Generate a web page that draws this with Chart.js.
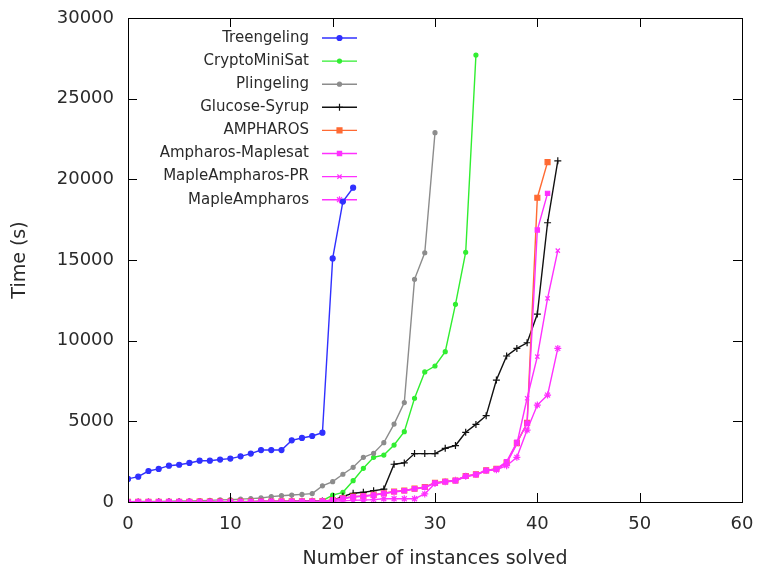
<!DOCTYPE html>
<html>
<head>
<meta charset="utf-8">
<script src="https://cdn.jsdelivr.net/npm/chart.js@4"></script>
<style>
  html, body { margin: 0; padding: 0; background: #fff; }
  #wrap { width: 760px; height: 570px; }
</style>
</head>
<body>
<div id="wrap"><canvas id="grafico" width="760" height="570"></canvas></div>
<script>
// valores (tiempo en s por número de instancias resueltas)
const series = ["Treengeling", "CryptoMiniSat", "Plingeling", "Glucose-Syrup",
  "AMPHAROS", "Ampharos-Maplesat", "MapleAmpharos-PR", "MapleAmpharos"];

const treengeling = [1430, 1570, 1920, 2050, 2250, 2310, 2420, 2560, 2560, 2630,
  2690, 2830, 3000, 3220, 3220, 3220, 3820, 3970, 4090, 4300,
  15100, 18620, 19480];

const cryptominisat = [10, 10, 10, 15, 15, 20, 20, 20, 25, 25,
  30, 30, 35, 40, 40, 45, 50, 55, 60, 80,
  430, 600, 1320, 2090, 2770, 2910, 3530, 4360, 6430, 8060,
  8430, 9320, 12250, 15480, 27700];

const plingeling = [20, 30, 30, 40, 50, 60, 70, 80, 100, 130,
  150, 180, 210, 250, 330, 390, 430, 470, 520, 1000,
  1260, 1720, 2150, 2770, 3020, 3680, 4830, 6160, 13800, 15450,
  22890];

const glucoseSyrup = [5, 5, 5, 10, 10, 10, 15, 15, 15, 20,
  20, 25, 25, 30, 30, 35, 40, 45, 50, 60,
  100, 350, 540, 600, 700, 800, 2340, 2420, 3000, 3000,
  3000, 3330, 3500, 4320, 4810, 5350, 7560, 9050, 9520, 9870,
  11650, 17310, 21150];

const ampharos = [10, 10, 10, 10, 15, 15, 15, 20, 20, 20,
  25, 25, 25, 30, 30, 35, 35, 40, 40, 50,
  120, 230, 330, 370, 440, 540, 650, 710, 830, 930,
  1190, 1270, 1330, 1610, 1710, 1960, 2060, 2450, 3650, 4900,
  18860, 21070];

const ampharosMaplesat = [10, 10, 10, 10, 15, 15, 15, 20, 20, 20,
  25, 25, 25, 30, 30, 35, 35, 40, 40, 50,
  120, 230, 330, 370, 430, 540, 640, 700, 820, 920,
  1180, 1260, 1320, 1600, 1700, 1950, 2050, 2500, 3700, 4880,
  16860, 19130];

const mapleAmpharosPR = [10, 10, 10, 10, 15, 15, 15, 20, 20, 20,
  25, 25, 25, 30, 30, 35, 35, 40, 40, 50,
  100, 200, 300, 350, 420, 520, 620, 700, 800, 900,
  1150, 1250, 1300, 1580, 1680, 1930, 2030, 2400, 3600, 6430,
  9010, 12620, 15580];

const mapleAmpharos = [5, 5, 5, 5, 10, 10, 10, 10, 15, 15,
  15, 20, 20, 20, 25, 25, 25, 30, 30, 40,
  50, 80, 100, 120, 150, 200, 200, 200, 200, 500,
  1150, 1250, 1350, 1600, 1700, 1950, 2000, 2250, 2770, 4460,
  6010, 6630, 9520];

const xTicks = [0, 10, 20, 30, 40, 50, 60];
const yTicks = [0, 5000, 10000, 15000, 20000, 25000, 30000];

const valores = [treengeling, cryptominisat, plingeling, glucoseSyrup,
  ampharos, ampharosMaplesat, mapleAmpharosPR, mapleAmpharos];
const colores = ["#3030ff", "#30ee30", "#8c8c8c", "#111111",
  "#ff6a33", "#ff30ff", "#ff30ff", "#ff30ff"];
const marcas = ["circle", "circle", "circle", "cross", "rect", "rect", "crossRot", "star"];
const radios = [2.5, 2, 2, 3.5, 3.5, 3, 3, 3.5];

const fuente = "'DejaVu Sans', sans-serif";
const textoColor = "#2a2a2a";

const datasets = series.map((nombre, i) => ({
  label: nombre,
  data: valores[i].map((v, n) => ({ x: n, y: v })),
  borderColor: colores[i],
  backgroundColor: colores[i],
  pointStyle: marcas[i],
  pointRadius: radios[i],
  pointBorderWidth: 1.2,
  borderWidth: 1.4,
  tension: 0,
  order: series.length - i
}));

// marco estilo gnuplot con marcas hacia dentro
const marcoPlugin = {
  id: "marco",
  afterDatasetsDraw(chart) {
    const { ctx, chartArea: a, scales } = chart;
    ctx.save();
    ctx.strokeStyle = "#000";
    ctx.lineWidth = 1;
    ctx.strokeRect(a.left + 0.5, a.top + 0.5, a.right - a.left, a.bottom - a.top);
    ctx.beginPath();
    xTicks.forEach(t => {
      const px = Math.round(scales.x.getPixelForValue(t)) + 0.5;
      ctx.moveTo(px, a.bottom); ctx.lineTo(px, a.bottom - 9);
      ctx.moveTo(px, a.top); ctx.lineTo(px, a.top + 9);
    });
    yTicks.forEach(t => {
      const py = Math.round(scales.y.getPixelForValue(t)) + 0.5;
      ctx.moveTo(a.left, py); ctx.lineTo(a.left + 9, py);
      ctx.moveTo(a.right, py); ctx.lineTo(a.right - 9, py);
    });
    ctx.stroke();
    ctx.restore();
  }
};

// leyenda con el texto a la izquierda de la muestra
const leyendaPlugin = {
  id: "leyenda",
  beforeDatasetsDraw(chart) {
    const { ctx } = chart;
    ctx.save();
    ctx.font = "15px " + fuente;
    ctx.textAlign = "right";
    ctx.textBaseline = "middle";
    series.forEach((nombre, i) => {
      const y = 38 + i * 23.1;
      ctx.fillStyle = textoColor;
      ctx.fillText(nombre, 309, y);
      ctx.strokeStyle = colores[i];
      ctx.fillStyle = colores[i];
      ctx.lineWidth = 1.4;
      ctx.beginPath();
      ctx.moveTo(322, y);
      ctx.lineTo(357, y);
      ctx.stroke();
      ctx.lineWidth = 1.2;
      Chart.helpers.drawPoint(ctx, { pointStyle: marcas[i], radius: radios[i], rotation: 0, borderWidth: 1.2 }, 339.5, y);
    });
    ctx.restore();
  }
};

new Chart(document.getElementById("grafico"), {
  type: "line",
  data: { datasets },
  options: {
    responsive: false,
    animation: false,
    layout: { padding: { top: 18, right: 18, left: 0, bottom: 0 } },
    plugins: {
      legend: { display: false },
      tooltip: { enabled: false }
    },
    scales: {
      x: {
        type: "linear",
        min: 0,
        max: 60,
        afterFit(scale) {
          scale.height = 68;
          scale.paddingLeft = 0;
          scale.paddingRight = 0;
        },
        afterBuildTicks(scale) { scale.ticks = xTicks.map(v => ({ value: v })); },
        grid: { display: false, drawTicks: false },
        border: { display: false },
        ticks: { color: textoColor, padding: 12, callback: v => String(v), font: { family: fuente, size: 18 } },
        title: {
          display: true,
          text: "Number of instances solved",
          color: textoColor,
          padding: { top: 0, bottom: 0 },
          font: { family: fuente, size: 19 }
        }
      },
      y: {
        min: 0,
        max: 30000,
        afterFit(scale) {
          scale.width = 128;
          scale.paddingTop = 0;
          scale.paddingBottom = 0;
        },
        afterBuildTicks(scale) { scale.ticks = yTicks.map(v => ({ value: v })); },
        grid: { display: false, drawTicks: false },
        border: { display: false },
        ticks: { color: textoColor, padding: 14, callback: v => String(v), font: { family: fuente, size: 18 } },
        title: {
          display: true,
          text: "Time (s)",
          color: textoColor,
          padding: { top: 9, bottom: 0 },
          font: { family: fuente, size: 19 }
        }
      }
    }
  },
  plugins: [leyendaPlugin, marcoPlugin]
});
</script>
</body>
</html>
